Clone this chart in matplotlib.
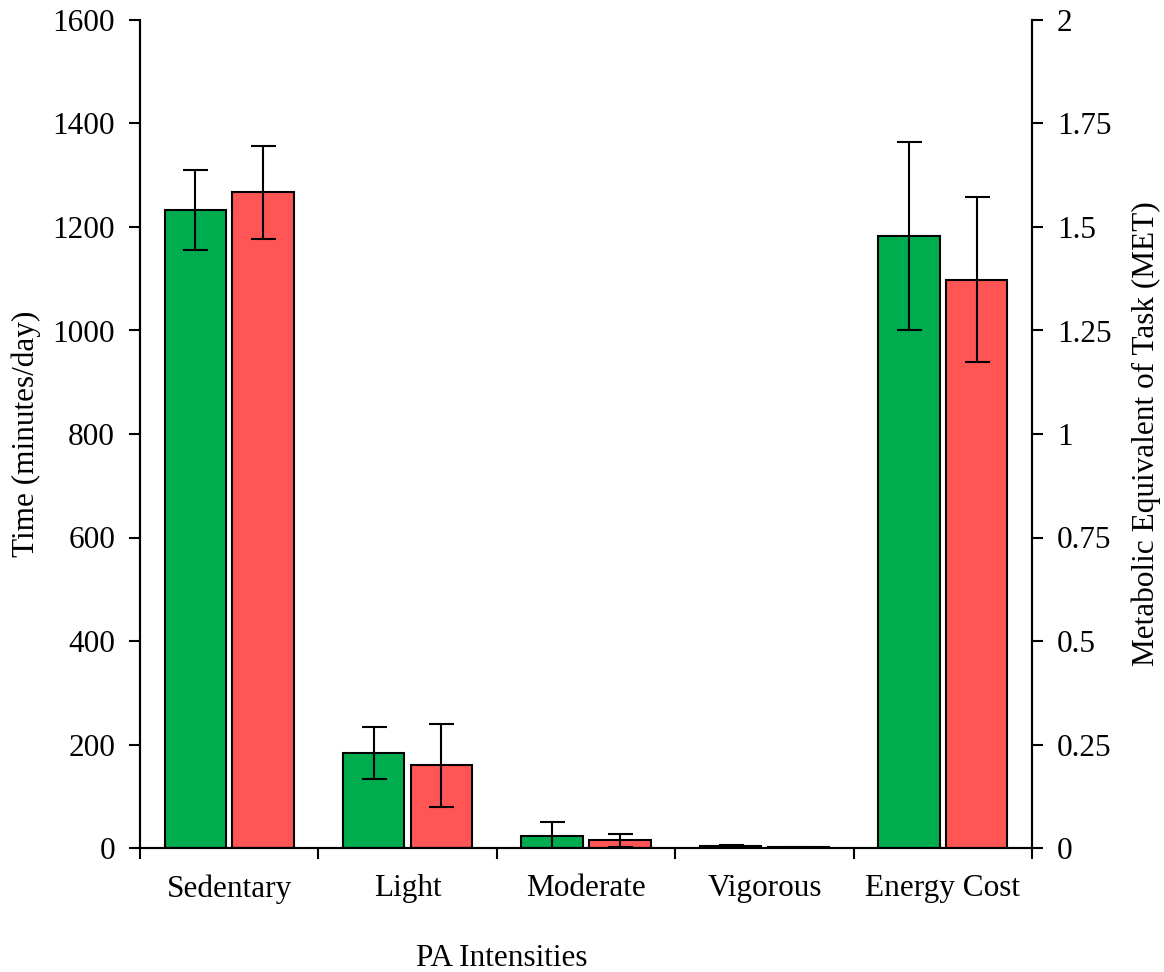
import matplotlib
matplotlib.use("Agg")
import matplotlib.pyplot as plt
import numpy as np

plt.rcParams['font.family'] = ['Liberation Serif', 'DejaVu Serif']

categories = ["Sedentary", "Light", "Moderate", "Vigorous", "Energy Cost"]
# Time (minutes/day) for the first four categories
green_time = [1233, 183, 24, 3]
green_time_err = [77, 50, 27, 3]
red_time = [1267, 160, 15, 1]
red_time_err = [90, 80, 13, 1]
# Energy cost (MET) on right axis
green_met = 1.478
green_met_err = 0.227
red_met = 1.373
red_met_err = 0.200

green = "#00AD4E"
red = "#FF5555"
FS = 22.5

fig = plt.figure(figsize=(11.64, 9.72), dpi=100)
ax = fig.add_axes([140/1164, 1 - 848/972, (1032-140)/1164, (848-20)/972])
ax2 = ax.twinx()

w = 0.345
off = 0.19
x = np.arange(4)
ek = dict(ecolor='black', elinewidth=1.5, capsize=9, capthick=1.5)
ax.bar(x - off, green_time, w, color=green, edgecolor='black', linewidth=1.5,
       yerr=green_time_err, error_kw=ek)
ax.bar(x + off, red_time, w, color=red, edgecolor='black', linewidth=1.5,
       yerr=red_time_err, error_kw=ek)
ax2.bar([4 - off], [green_met], w, color=green, edgecolor='black', linewidth=1.5,
        yerr=[green_met_err], error_kw=ek)
ax2.bar([4 + off], [red_met], w, color=red, edgecolor='black', linewidth=1.5,
        yerr=[red_met_err], error_kw=ek)

ax.set_xlim(-0.5, 4.5)
ax.set_ylim(0, 1600)
ax2.set_ylim(0, 2)
ax.set_yticks(np.arange(0, 1601, 200))
ax2.set_yticks(np.arange(0, 2.01, 0.25))
ax2.set_yticklabels(["0", "0.25", "0.5", "0.75", "1", "1.25", "1.5", "1.75", "2"])

ax.set_xticks(np.arange(-0.5, 4.6, 1.0))
ax.set_xticklabels([])
ax.set_xticks(np.arange(5), minor=True)
ax.set_xticklabels(categories, minor=True)
ax.tick_params(axis='x', which='minor', length=0, pad=19, labelsize=FS)
ax.tick_params(axis='x', which='major', length=8, width=1.5, direction='out')
ax.tick_params(axis='y', length=8, width=1.5, labelsize=FS, pad=10)
ax2.tick_params(axis='y', length=8, width=1.5, labelsize=FS, pad=10)

for a in (ax, ax2):
    a.spines['top'].set_visible(False)
    for s in ('left', 'right', 'bottom'):
        a.spines[s].set_linewidth(1.5)

ax.set_ylabel("Time (minutes/day)", fontsize=FS, labelpad=8)
ax2.set_ylabel("Metabolic Equivalent of Task (MET)", fontsize=FS, labelpad=14)
ax.set_xlabel("PA Intensities", fontsize=FS)
ax.xaxis.set_label_coords(0.406, -(944 - 848) / 828)

fig.savefig("out.png", dpi=100)
